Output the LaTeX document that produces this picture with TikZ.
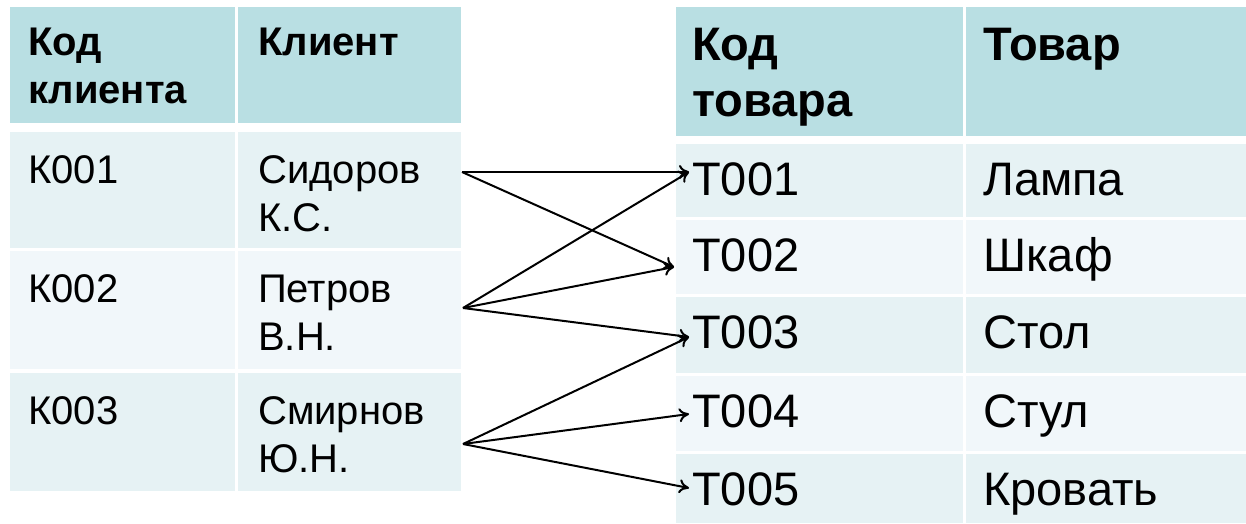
\documentclass[tikz,border=0pt]{standalone}
\usepackage{fontspec}
\setmainfont{Liberation Sans}
\usetikzlibrary{arrows.meta}
\definecolor{hdr}{RGB}{185,223,227}
\definecolor{oddrow}{RGB}{230,242,244}
\definecolor{evenrow}{RGB}{241,247,250}
\newcommand\ltxt{\fontsize{40}{48}\selectfont}
\newcommand\rtxt{\fontsize{47}{56}\selectfont}
\begin{document}
\begin{tikzpicture}[x=1pt,y=-1pt,
  ltext/.style={anchor=base west,inner sep=0pt,align=left,font=\ltxt},
  rtext/.style={anchor=base west,inner sep=0pt,align=left,font=\rtxt},
  link/.style={line width=2pt,-{To[length=10pt,width=14pt,line width=2pt]}}]
\useasboundingbox (0,0) rectangle (1246,523);
% left table
\fill[hdr] (10,7) rectangle (235,123);
\fill[hdr] (238,7) rectangle (461,123);
\fill[oddrow] (10,132) rectangle (235,248);
\fill[oddrow] (238,132) rectangle (461,248);
\fill[evenrow] (10,251) rectangle (235,369);
\fill[evenrow] (238,251) rectangle (461,369);
\fill[oddrow] (10,373) rectangle (235,491);
\fill[oddrow] (238,373) rectangle (461,491);
% right table
\fill[hdr] (676,7) rectangle (963,136);
\fill[hdr] (966,7) rectangle (1246,136);
\fill[oddrow] (676,144) rectangle (963,217);
\fill[oddrow] (966,144) rectangle (1246,217);
\fill[evenrow] (676,220) rectangle (963,294);
\fill[evenrow] (966,220) rectangle (1246,294);
\fill[oddrow] (676,297) rectangle (963,373);
\fill[oddrow] (966,297) rectangle (1246,373);
\fill[evenrow] (676,376) rectangle (963,451);
\fill[evenrow] (966,376) rectangle (1246,451);
\fill[oddrow] (676,454) rectangle (963,523);
\fill[oddrow] (966,454) rectangle (1246,523);
% left texts (base = baseline of last line)
\node[ltext,font=\ltxt\bfseries] (hk) at (28,103) {Код\\клиента};
\node[ltext,font=\ltxt\bfseries] (hc) at (258,55) {Клиент};
\node[ltext] (k1) at (28,183) {К001};
\node[ltext] (c1) at (258,231) {Сидоров\\К.С.};
\node[ltext] (k2) at (28,302) {К002};
\node[ltext] (c2) at (258,350) {Петров\\В.Н.};
\node[ltext] (k3) at (28,424) {К003};
\node[ltext] (c3) at (258,472) {Смирнов\\Ю.Н.};
% right texts
\node[rtext,font=\rtxt\bfseries] (ht) at (692,116) {Код\\товара};
\node[rtext,font=\rtxt\bfseries] (hg) at (983,60) {Товар};
\node[rtext] (t1) at (692,195) {Т001};
\node[rtext] (g1) at (983,195) {Лампа};
\node[rtext] (t2) at (692,271) {Т002};
\node[rtext] (g2) at (983,271) {Шкаф};
\node[rtext] (t3) at (692,348) {Т003};
\node[rtext] (g3) at (983,348) {Стол};
\node[rtext] (t4) at (692,427) {Т004};
\node[rtext] (g4) at (983,427) {Стул};
\node[rtext] (t5) at (692,505) {Т005};
\node[rtext] (g5) at (983,505) {Кровать};
% ports
\coordinate (s1) at (462,172);
\coordinate (s2) at (463,308);
\coordinate (s3) at (463,444);
\coordinate (p1) at (689,172);
\coordinate (p2) at (674,267);
\coordinate (p3) at (689,337);
\coordinate (p4) at (689,414);
\coordinate (p5) at (689,488);
\draw[link] (s1) -- (p1);
\draw[link] (s1) -- (p2);
\draw[link] (s2) -- (p1);
\draw[link] (s2) -- (p2);
\draw[link] (s2) -- (p3);
\draw[link] (s3) -- (p3);
\draw[link] (s3) -- (p4);
\draw[link] (s3) -- (p5);
\end{tikzpicture}
\end{document}
